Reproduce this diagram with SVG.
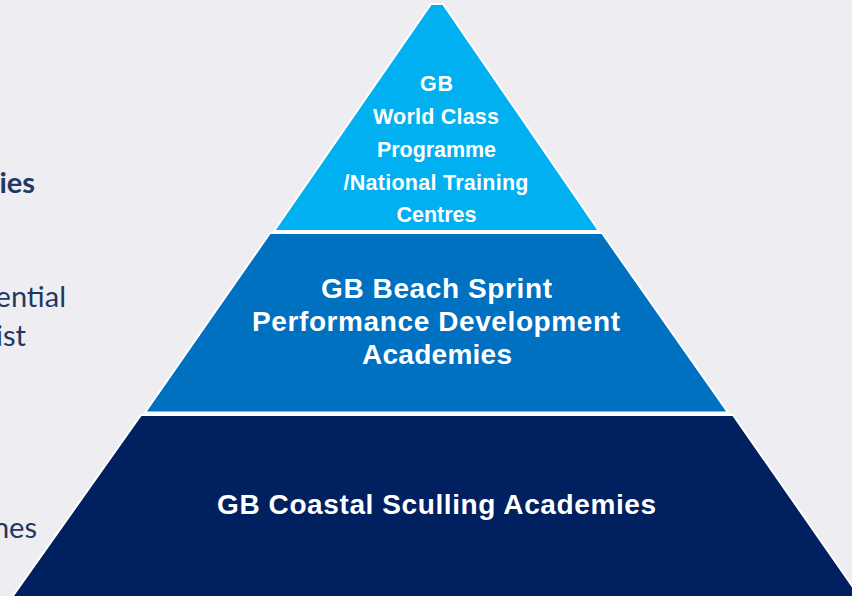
<svg xmlns="http://www.w3.org/2000/svg" width="852" height="596" viewBox="0 0 852 596">
<style>
.bg{fill:#EEEDF2}
.tier{stroke:#FFFFFF;stroke-width:2;stroke-linejoin:round}
.t1{fill:#00B0F0}
.t2{fill:#0070C0}
.t3{fill:#002060}
.lbl{font-family:"Liberation Sans",Arial,sans-serif;font-weight:bold;fill:#FFFFFF;text-anchor:middle}
.s20{font-size:21.5px}
.s26{font-size:28px}
.side{font-family:Lato,"Open Sans",sans-serif;fill:#1F3864;font-size:29px;text-anchor:end}
</style>
<rect class="bg" x="0" y="0" width="852" height="596"/>
<g id="side-text">
<text class="side" x="35" y="193" font-weight="bold" font-size="30">ies</text>
<text class="side" x="66" y="307">ential</text>
<text class="side" x="26" y="346">ist</text>
<text class="side" x="37" y="538">nes</text>
</g>
<g id="tier-bottom">
<polygon class="tier t3" points="141,415 733,415 862,600 10,600"/>
<text class="lbl s26" x="436.5" y="514" textLength="439" lengthAdjust="spacing">GB Coastal Sculling Academies</text>
</g>
<g id="tier-middle">
<polygon class="tier t2" points="270,233 602,233 728,412.5 145,412.5"/>
<text class="lbl s26" x="436.5" y="298" textLength="231" lengthAdjust="spacing">GB Beach Sprint</text>
<text class="lbl s26" x="436" y="331" textLength="368" lengthAdjust="spacing">Performance Development</text>
<text class="lbl s26" x="437" y="364" textLength="150" lengthAdjust="spacing">Academies</text>
</g>
<g id="tier-top">
<polygon class="tier t1" points="431,4 443,4 599,231 274,231"/>
<text class="lbl s20" x="436.5" y="91" textLength="33" lengthAdjust="spacing">GB</text>
<text class="lbl s20" x="436" y="124" textLength="126" lengthAdjust="spacing">World Class</text>
<text class="lbl s20" x="436.5" y="157" textLength="119" lengthAdjust="spacing">Programme</text>
<text class="lbl s20" x="436" y="190" textLength="185" lengthAdjust="spacing">/National Training</text>
<text class="lbl s20" x="436.5" y="222" textLength="80" lengthAdjust="spacing">Centres</text>
</g>
<g id="connectors"/>
</svg>
